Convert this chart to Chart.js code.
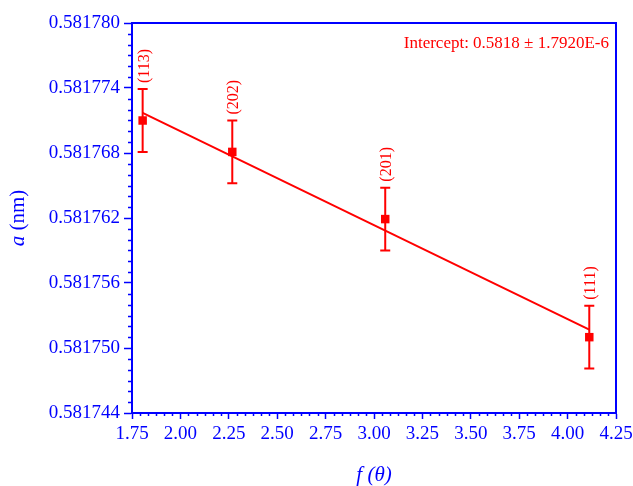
<!DOCTYPE html>
<html>
<head>
<meta charset="utf-8">
<script src="https://cdn.jsdelivr.net/npm/chart.js@4.4.1/dist/chart.umd.min.js"></script>
<style>
  html, body { margin: 0; padding: 0; background: #fff; }
  #wrap { width: 633px; height: 486px; }
</style>
</head>
<body>
<div id="wrap"><canvas id="latticeFit" width="633" height="486"></canvas></div>
<script>
// ---- data ----
const reflections = ["(113)", "(202)", "(201)", "(111)"];
const fTheta = [1.805, 2.268, 3.058, 4.112];
const latticeA = [0.5817710, 0.5817681, 0.5817619, 0.5817510];
const latticeErr = [0.0000029, 0.0000029, 0.0000029, 0.0000029];
const fitX = [1.805, 4.112];
const fitY = [0.5817717, 0.5817517];
const xTicks = [1.75, 2.00, 2.25, 2.50, 2.75, 3.00, 3.25, 3.50, 3.75, 4.00, 4.25];
const yTicks = [0.581744, 0.581750, 0.581756, 0.581762, 0.581768, 0.581774, 0.581780];
const interceptText = "Intercept: 0.5818 \u00B1 1.7920E-6";

const BLUE = "#0000ff";
const RED = "#ff0000";
const SERIF = "'Liberation Serif', 'DejaVu Serif', serif";

// error bars + rotated hkl labels
const errorBars = {
  id: "errorBars",
  afterDatasetsDraw(chart) {
    const { ctx, scales: { x, y } } = chart;
    ctx.save();
    ctx.strokeStyle = RED;
    ctx.lineWidth = 2;
    fTheta.forEach((fx, i) => {
      const px = x.getPixelForValue(fx);
      const top = y.getPixelForValue(latticeA[i] + latticeErr[i]);
      const bot = y.getPixelForValue(latticeA[i] - latticeErr[i]);
      ctx.beginPath();
      ctx.moveTo(px, top); ctx.lineTo(px, bot);
      ctx.moveTo(px - 5, top); ctx.lineTo(px + 5, top);
      ctx.moveTo(px - 5, bot); ctx.lineTo(px + 5, bot);
      ctx.stroke();

      ctx.save();
      ctx.translate(px + 2, top - 6);
      ctx.rotate(-Math.PI / 2);
      ctx.fillStyle = RED;
      ctx.font = "16px " + SERIF;
      ctx.textAlign = "left";
      ctx.textBaseline = "middle";
      ctx.fillText(reflections[i], 0, 0);
      ctx.restore();
    });
    ctx.restore();
  }
};

// frame, minor ticks, axis titles, intercept note
const decorations = {
  id: "decorations",
  afterDraw(chart) {
    const { ctx, chartArea: a, scales: { x, y } } = chart;
    ctx.save();
    ctx.strokeStyle = BLUE;
    ctx.lineWidth = 2;
    ctx.strokeRect(a.left, a.top, a.right - a.left, a.bottom - a.top);

    ctx.lineWidth = 1.5;
    ctx.beginPath();
    for (let i = 0; i < yTicks.length - 1; i++) {
      const step = (yTicks[i + 1] - yTicks[i]) / 6;
      for (let k = 1; k < 6; k++) {
        const py = Math.round(y.getPixelForValue(yTicks[i] + k * step)) + 0.5;
        ctx.moveTo(a.left - 4, py); ctx.lineTo(a.left, py);
      }
    }
    for (let i = 0; i < xTicks.length - 1; i++) {
      const step = (xTicks[i + 1] - xTicks[i]) / 6;
      for (let k = 1; k < 6; k++) {
        const px = Math.round(x.getPixelForValue(xTicks[i] + k * step)) + 0.5;
        ctx.moveTo(px, a.bottom); ctx.lineTo(px, a.bottom + 3);
      }
    }
    ctx.stroke();

    ctx.fillStyle = BLUE;
    ctx.textBaseline = "middle";
    // y title: italic a, upright (nm)
    ctx.save();
    ctx.translate(18, (a.top + a.bottom) / 2);
    ctx.rotate(-Math.PI / 2);
    ctx.font = "italic 21px " + SERIF;
    const wa = ctx.measureText("a ").width;
    ctx.font = "21px " + SERIF;
    const wn = ctx.measureText("(nm)").width;
    const start = -(wa + wn) / 2;
    ctx.textAlign = "left";
    ctx.font = "italic 21px " + SERIF;
    ctx.fillText("a ", start, 0);
    ctx.font = "21px " + SERIF;
    ctx.fillText("(nm)", start + wa, 0);
    ctx.restore();

    // x title
    ctx.font = "italic 21px " + SERIF;
    ctx.textAlign = "center";
    ctx.fillText("f (\u03B8)", (a.left + a.right) / 2, 475);

    // intercept
    ctx.fillStyle = RED;
    ctx.font = "17px " + SERIF;
    ctx.textAlign = "right";
    ctx.textBaseline = "alphabetic";
    ctx.fillText(interceptText, a.right - 7, a.top + 25);
    ctx.restore();
  }
};

new Chart(document.getElementById("latticeFit"), {
  type: "scatter",
  data: {
    datasets: [
      {
        type: "line",
        label: "fit",
        data: fitX.map((v, i) => ({ x: v, y: fitY[i] })),
        borderColor: RED,
        borderWidth: 2,
        pointRadius: 0,
        fill: false,
        order: 2,
      },
      {
        label: "a",
        data: fTheta.map((v, i) => ({ x: v, y: latticeA[i] })),
        pointStyle: "rect",
        pointRadius: 6,
        backgroundColor: RED,
        borderColor: RED,
        borderWidth: 0,
        order: 1,
      },
    ],
  },
  options: {
    responsive: false,
    animation: false,
    events: [],
    layout: { padding: { left: 0, right: 17, top: 23, bottom: 0 } },
    plugins: { legend: { display: false }, tooltip: { enabled: false } },
    scales: {
      x: {
        type: "linear",
        min: 1.75,
        max: 4.25,
        afterBuildTicks: (s) => { s.ticks = xTicks.map((v) => ({ value: v })); },
        afterFit: (s) => { s.height = 73; s.paddingLeft = 0; s.paddingRight = 0; },
        ticks: {
          color: BLUE,
          font: { family: SERIF, size: 19 },
          padding: 4,
          maxRotation: 0,
          callback: (v) => Number(v).toFixed(2),
        },
        grid: { drawOnChartArea: false, tickLength: 6, tickColor: BLUE, tickWidth: 1.5 },
        border: { color: BLUE, width: 2 },
      },
      y: {
        type: "linear",
        min: 0.581744,
        max: 0.581780,
        afterBuildTicks: (s) => { s.ticks = yTicks.map((v) => ({ value: v })); },
        afterFit: (s) => { s.width = 132; },
        ticks: {
          color: BLUE,
          font: { family: SERIF, size: 19 },
          padding: 4,
          callback: (v) => Number(v).toFixed(6),
        },
        grid: { drawOnChartArea: false, tickLength: 8, tickColor: BLUE, tickWidth: 1.5 },
        border: { color: BLUE, width: 2 },
      },
    },
  },
  plugins: [errorBars, decorations],
});
</script>
</body>
</html>
